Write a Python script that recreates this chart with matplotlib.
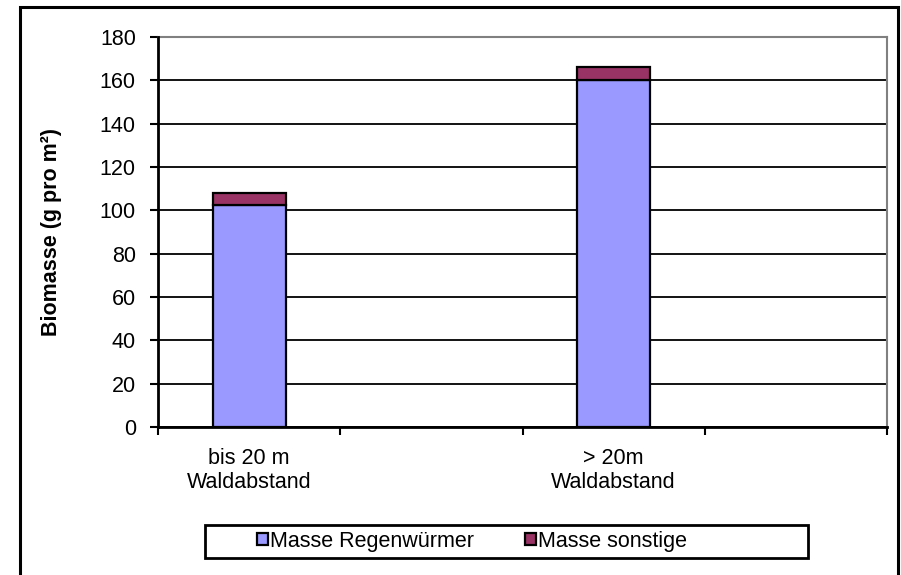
import matplotlib.pyplot as plt
from matplotlib.patches import Rectangle

# Biomasse je Waldabstand (g pro m²)
categories = ['bis 20 m\nWaldabstand', '', '> 20m\nWaldabstand', '']
regenwuermer = [102.5, 0, 160.0, 0]
sonstige = [5.5, 0, 6.3, 0]
series_names = ['Masse Regenwürmer', 'Masse sonstige']
y_ticks = list(range(0, 181, 20))

plt.rcParams['font.family'] = ['Liberation Sans', 'DejaVu Sans']
FS = 15.5

fig = plt.figure(figsize=(9.01, 5.75), dpi=100)
W, H = 901, 575

# outer chart frame (bottom edge runs off the image)
fig.patches.append(Rectangle((20 / W, -0.05), (898 - 20) / W, (575 - 7) / H + 0.05,
                             transform=fig.transFigure, fill=False,
                             edgecolor='black', lw=2.2))

ax = fig.add_axes([158 / W, (575 - 427) / H, (887 - 158) / W, (427 - 37) / H])

x = list(range(len(categories)))
b1 = ax.bar(x, regenwuermer, width=0.4, color='#9999FF', edgecolor='black',
            lw=1.6, label=series_names[0], zorder=3)
b2 = ax.bar(x, sonstige, bottom=regenwuermer, width=0.4, color='#993366',
            edgecolor='black', lw=1.6, label=series_names[1], zorder=3)
# empty slots get no visible bars
for i, v in enumerate(regenwuermer):
    if v == 0:
        b1[i].set_visible(False)
        b2[i].set_visible(False)

ax.set_xlim(-0.5, len(categories) - 0.5)
ax.set_ylim(0, 180)
ax.set_yticks(y_ticks)
ax.tick_params(axis='y', labelsize=FS, length=6, width=1.5, pad=10)
ax.set_xticks([i - 0.5 for i in range(len(categories) + 1)])
ax.set_xticklabels([])
ax.set_xticks(x, categories, minor=True)
ax.tick_params(axis='x', which='major', length=6, width=1.5, direction='out')
ax.tick_params(axis='x', which='minor', length=0, labelsize=FS, pad=15)

ax.grid(axis='y', color='black', lw=1.3, zorder=1)
for s in ['left', 'bottom']:
    ax.spines[s].set_linewidth(2)
    ax.spines[s].set_zorder(4)
for s in ['top', 'right']:
    ax.spines[s].set_color('#808080')
    ax.spines[s].set_linewidth(1.5)

ax.set_ylabel('Biomasse (g pro m²)', fontsize=FS, fontweight='bold', labelpad=27)

# legend box
fig.patches.append(Rectangle((205 / W, (575 - 558) / H), (808 - 205) / W, 33 / H,
                             transform=fig.transFigure, fill=False,
                             edgecolor='black', lw=2))
fig.legend(handles=[b1, b2], labels=series_names, loc='center',
           bbox_to_anchor=(472 / W, (575 - 541.5) / H), ncol=2, frameon=False,
           fontsize=FS, handlelength=0.5, handleheight=0.5, handletextpad=0.1,
           columnspacing=2.4)

fig.savefig('out.png', dpi=100)
